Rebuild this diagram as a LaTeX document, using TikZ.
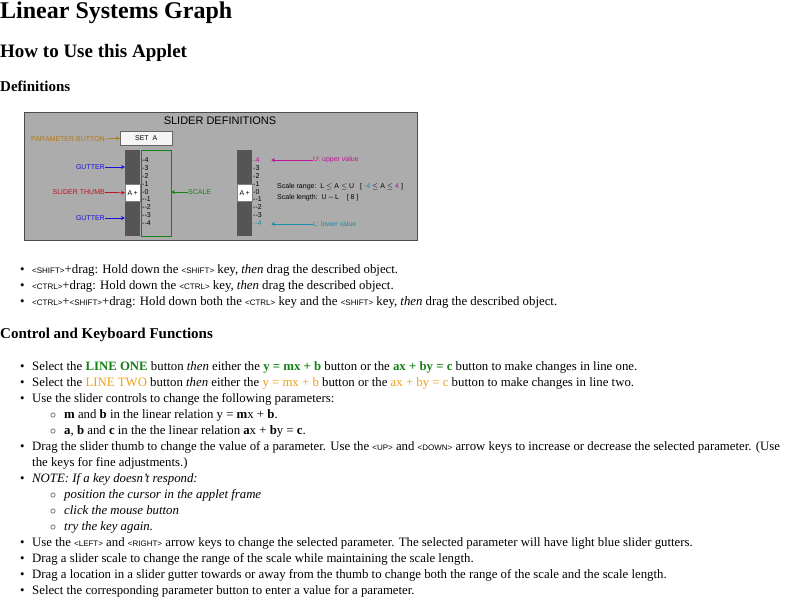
\documentclass[tikz,border=0pt]{standalone}
\usepackage{fontspec}
\setmainfont{Liberation Serif}
\newfontfamily\ssf{Liberation Sans}
\usetikzlibrary{arrows.meta}
\definecolor{lgreen}{RGB}{20,130,20}
\definecolor{lorange}{RGB}{240,160,20}
\definecolor{pbrown}{RGB}{180,120,20}
\definecolor{gblue}{RGB}{20,20,220}
\definecolor{tred}{RGB}{190,20,30}
\definecolor{umag}{RGB}{190,20,150}
\definecolor{lteal}{RGB}{30,140,170}
\definecolor{panel}{RGB}{172,172,172}
\definecolor{gut}{RGB}{85,85,85}
\newcommand{\kb}[1]{{\ssf\fontsize{8}{9}\selectfont<#1>}}
\begin{document}
\begin{tikzpicture}[x=1pt,y=-1pt,
 txt/.style={anchor=base west,inner sep=0pt,font=\fontsize{12.8}{15}\selectfont},
 sm/.style={inner sep=0pt,font=\ssf\fontsize{7}{8}\selectfont},
 arr/.style={-{Stealth[length=4pt,width=4pt,open]},line width=0.7pt}]
\useasboundingbox (0,0) rectangle (797,600);
\fill[white] (0,0) rectangle (797,600);
\node[txt,font=\bfseries\fontsize{24}{26}\selectfont] (t1) at (0,18) {Linear Systems Graph};
\node[txt,font=\bfseries\fontsize{19}{21}\selectfont] (t2) at (0,57) {How to Use this Applet};
\node[txt,font=\bfseries\fontsize{15}{17}\selectfont] (t3) at (0,91) {Definitions};
% panel
\draw[fill=panel,draw=black!70] (24,112) rectangle (417,240);
\node[font=\ssf\fontsize{11}{12}\selectfont,inner sep=0pt] (st) at (220,121) {SLIDER DEFINITIONS};
\node[draw=black!60,fill=white!92!gray,minimum width=52pt,minimum height=14pt,inner sep=0pt,sm,anchor=north west] (setA) at (120,131) {SET\ \ A};
\fill[gut] (125,150) rectangle (140,236);
\draw[lgreen,line width=1pt] (141,150) rectangle (171,236);
\node[draw=black!50,fill=white,minimum width=15pt,minimum height=17pt,inner sep=0pt,sm,anchor=north west] (th1) at (125,184) {A\,+};
\foreach \v [count=\i from 0] in {4,3,2,1,0,-1,-2,-3,-4}{
  \node[sm,anchor=west] (n\i) at (142,{160+7.9*\i}) {-\v};
}
\node[sm,text=pbrown,anchor=east] (pb) at (105,139) {PARAMETER BUTTON};
\draw[arr,pbrown] (pb.east) -- (setA.west);
\node[sm,text=gblue,anchor=east] (g1) at (105,167) {GUTTER};
\coordinate (g1e) at (125,167);
\draw[arr,gblue] (g1) -- (g1e);
\node[sm,text=tred,anchor=east] (slt) at (105,192) {SLIDER THUMB};
\draw[arr,tred] (slt) -- (th1.west);
\node[sm,text=gblue,anchor=east] (g2) at (105,218) {GUTTER};
\coordinate (g2e) at (125,218);
\draw[arr,gblue] (g2) -- (g2e);
\node[sm,text=lgreen,anchor=west] (sc) at (188,192) {SCALE};
\coordinate (sce) at (171,192);
\draw[arr,lgreen] (sc) -- (sce);
% right slider
\fill[gut] (237,150) rectangle (252,236);
\node[draw=black!50,fill=white,minimum width=15pt,minimum height=17pt,inner sep=0pt,sm,anchor=north west] (th2) at (237,184) {A\,+};
\foreach \v/\c [count=\i from 0] in {4/umag,3/black,2/black,1/black,0/black,-1/black,-2/black,-3/black,-4/lteal}{
  \node[sm,anchor=west,text=\c] (m\i) at (253,{160+7.9*\i}) {-\v};
}
\node[sm,text=umag,anchor=west] (U) at (313,160) {U: upper value};
\coordinate (Ue) at (271,160);
\draw[arr,umag] (U) -- (Ue);
\node[sm,text=lteal,anchor=west] (L) at (313,224) {L: lower value};
\coordinate (Le) at (271,224);
\draw[arr,lteal] (L) -- (Le);
\node[sm,anchor=west] (sr) at (277,187) {Scale range:\ \ L $\le$ A $\le$ U\ \ \ [ \textcolor{lteal}{-4} $\le$ A $\le$ \textcolor{umag}{4} ]};
\node[sm,anchor=west] (sl) at (277,198) {Scale length:\ \ U -- L\ \ \ \ [ 8 ]};
% definitions list
\foreach \y in {273,289,305}{\node[txt] at (20,\y) {\textbullet};}
\node[txt] (d1) at (32,273) {\kb{SHIFT}+drag: Hold down the \kb{SHIFT} key, \textit{then} drag the described object.};
\node[txt] (d2) at (32,289) {\kb{CTRL}+drag: Hold down the \kb{CTRL} key, \textit{then} drag the described object.};
\node[txt] (d3) at (32,305) {\kb{CTRL}+\kb{SHIFT}+drag: Hold down both the \kb{CTRL} key and the \kb{SHIFT} key, \textit{then} drag the described object.};
\node[txt,font=\bfseries\fontsize{15}{17}\selectfont] (t4) at (0,338) {Control and Keyboard Functions};
\foreach \y in {370,386,402,450,482,546,562,578,594}{\node[txt] at (20,\y) {\textbullet};}
\foreach \y in {418,434,498,514,530}{\node[txt] at (50,\y) {$\circ$};}
\node[txt] (c1) at (32,370) {Select the \textbf{\textcolor{lgreen}{LINE ONE}} button \textit{then} either the \textbf{\textcolor{lgreen}{y = mx + b}} button or the \textbf{\textcolor{lgreen}{ax + by = c}} button to make changes in line one.};
\node[txt] (c2) at (32,386) {Select the \textcolor{lorange}{LINE TWO} button \textit{then} either the \textcolor{lorange}{y = mx + b} button or the \textcolor{lorange}{ax + by = c} button to make changes in line two.};
\node[txt] (c3) at (32,402) {Use the slider controls to change the following parameters:};
\node[txt] (c4) at (64,418) {\textbf{m} and \textbf{b} in the linear relation y = \textbf{m}x + \textbf{b}.};
\node[txt] (c5) at (64,434) {\textbf{a}, \textbf{b} and \textbf{c} in the the linear relation \textbf{a}x + \textbf{b}y = \textbf{c}.};
\node[txt] (c6) at (32,450) {Drag the slider thumb to change the value of a parameter. Use the \kb{UP} and \kb{DOWN} arrow keys to increase or decrease the selected parameter. (Use};
\node[txt] (c7) at (32,466) {the keys for fine adjustments.)};
\node[txt] (c8) at (32,482) {\textit{NOTE: If a key doesn't respond:}};
\node[txt] (c9) at (64,498) {\textit{position the cursor in the applet frame}};
\node[txt] (c10) at (64,514) {\textit{click the mouse button}};
\node[txt] (c11) at (64,530) {\textit{try the key again.}};
\node[txt] (c12) at (32,546) {Use the \kb{LEFT} and \kb{RIGHT} arrow keys to change the selected parameter. The selected parameter will have light blue slider gutters.};
\node[txt] (c13) at (32,562) {Drag a slider scale to change the range of the scale while maintaining the scale length.};
\node[txt] (c14) at (32,578) {Drag a location in a slider gutter towards or away from the thumb to change both the range of the scale and the scale length.};
\node[txt] (c15) at (32,594) {Select the corresponding parameter button to enter a value for a parameter.};
\end{tikzpicture}
\end{document}
